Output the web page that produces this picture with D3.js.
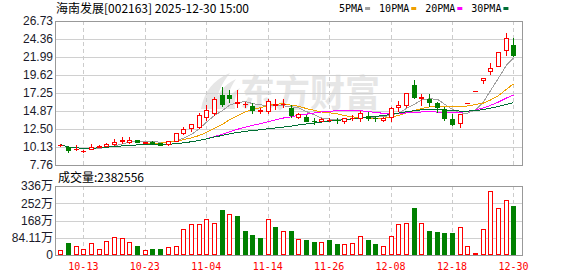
<!DOCTYPE html>
<html>
<head>
<meta charset="utf-8">
<script src="https://cdn.jsdelivr.net/npm/d3@7"></script>
<style>
  body { margin: 0; background: #fff; }
  svg { display: block; }
</style>
</head>
<body>
<div id="container"></div>
<script>
// trading days shown (MM-DD)
let dates = ["09-30","10-09","10-10","10-13","10-14","10-15","10-16","10-17","10-20","10-21",
  "10-22","10-23","10-24","10-27","10-28","10-29","10-30","10-31","11-03","11-04",
  "11-05","11-06","11-07","11-10","11-11","11-12","11-13","11-14","11-17","11-18",
  "11-19","11-20","11-21","11-24","11-25","11-26","11-27","11-28","12-01","12-02",
  "12-03","12-04","12-05","12-08","12-09","12-10","12-11","12-12","12-15","12-16",
  "12-17","12-18","12-19","12-22","12-23","12-24","12-25","12-26","12-29","12-30"];

let open = [10.35,10.15,9.85,9.55,9.90,10.15,10.30,10.50,10.95,10.75,
  11.00,10.65,10.80,10.60,10.50,10.95,11.95,12.60,12.80,14.10,
  14.65,16.98,16.98,15.90,15.75,15.53,14.85,14.90,15.70,15.75,
  15.30,14.12,14.12,13.60,13.60,13.70,13.75,13.55,13.95,14.00,
  14.25,13.97,13.75,14.10,15.35,15.66,18.30,16.65,16.42,15.90,
  15.10,13.82,13.25,15.93,17.52,18.95,20.20,20.85,22.85,23.55];
let high = [10.55,10.20,10.40,9.70,10.50,10.40,10.60,11.15,11.40,11.40,
  11.10,10.80,10.95,10.65,10.95,12.00,12.72,13.20,14.60,15.66,
  16.70,18.07,17.60,17.60,16.10,15.90,15.30,16.50,16.50,16.45,
  15.66,14.60,14.30,14.00,13.95,13.95,14.00,13.95,14.30,14.90,
  14.70,14.25,14.05,15.40,16.20,17.20,18.96,17.10,17.10,16.10,
  15.36,14.48,14.50,15.93,17.52,19.27,21.20,22.66,25.10,24.45];
let low = [10.30,9.50,9.80,9.50,9.85,10.10,10.20,10.45,10.60,10.60,
  10.75,10.60,10.55,10.40,10.45,10.90,11.90,12.30,12.70,13.70,
  14.40,15.53,16.10,15.40,15.40,14.65,14.55,14.60,15.20,15.35,
  14.12,14.00,13.55,13.15,13.50,13.50,13.30,13.30,13.70,13.50,
  13.70,13.55,13.50,13.50,14.90,15.35,16.63,15.66,15.53,14.80,
  13.69,13.03,12.73,15.93,17.52,18.60,19.70,20.80,22.20,22.12];
let close = [10.45,9.75,9.90,9.65,10.10,10.30,10.55,10.80,11.00,11.10,
  10.85,10.75,10.65,10.45,10.90,11.95,12.55,13.10,14.35,15.00,
  16.45,15.80,16.63,16.00,15.80,15.00,14.95,16.20,15.75,15.85,
  14.35,14.45,13.60,13.55,13.86,13.72,13.70,13.90,14.00,14.65,
  13.95,13.92,14.00,15.30,15.66,17.20,16.70,16.75,16.10,15.36,
  13.99,13.16,14.48,15.93,17.52,19.27,20.60,22.66,24.55,22.30];

// volume in 万 (last day 2382556)
let volume = [24,58,44,29,58,29,68,88,83,63,
  44,24,29,29,39,44,127,151,151,174,
  157,219,200,190,117,98,83,174,137,117,
  117,77,73,63,63,73,54,54,58,91,
  73,54,44,91,151,154,229,154,117,112,
  107,107,135,42,10,125,311,228,267,238.2556];
// 1 = red volume bar, 0 = green
let volUp = [1,0,1,1,1,1,1,1,1,1, 0,1,0,0,1,1,1,1,1,1,
  1,0,1,0,0,0,0,1,0,1, 0,1,0,0,1,0,0,1,1,1,
  0,0,1,1,1,1,0,1,0,0, 0,0,1,1,1,1,1,1,1,0];

let priceTicks = [7.76,10.13,12.50,14.87,17.25,19.62,21.99,24.36,26.73];
let volTicks = [0,84.11,168.22,252.33,336.44];
let volTickLabels = ["0","84.11万","168万","252万","336万"];
let tickDates = ["10-13","10-23","11-04","11-14","11-26","12-08","12-18","12-30"];
let maPeriods = [5,10,20,30];
let maNames = ["5PMA","10PMA","20PMA","30PMA"];

let maColors = ["#a0a0a0","#f0a000","#ff00ff","#006f35"];
let upColor = "#ff0000";
let downColor = "#008000";

let w = 578;
let h = 276;
let left = 56, right = 522;
let top1 = 21, bottom1 = 165;
let top2 = 186, bottom2 = 255;

let viz = d3.select("#container")
  .append("svg")
    .attr("width", w)
    .attr("height", h)
;

let rows = dates.map(function(d, i){
  return {date: d, o: open[i], h: high[i], l: low[i], c: close[i], v: volume[i], vUp: volUp[i]};
});

let xScale = d3.scaleBand().domain(dates).range([56.5, 517.3]);
function cx(d){ return Math.round(xScale(d) + xScale.bandwidth()/2); }

let yScale = d3.scaleLinear().domain([7.76, 26.73]).range([bottom1, top1]);
let vScale = d3.scaleLinear().domain([0, 336.44]).range([bottom2, top2]);

// watermark
let mark = viz.append("g").attr("fill", "#e6e6e6");
mark.append("path")
  .attr("d", "M201,109 C204,92 213,80 230,73 C221,84 216,96 216,109 Z M214,109 C216,95 223,85 236,79 C229,89 226,99 227,109 Z M225,109 C227,99 232,92 240,88 C235,95 234,102 235,109 Z");
mark.append("text")
  .attr("x", 240)
  .attr("y", 107)
  .attr("font-family", "Noto Sans CJK SC")
  .attr("font-weight", "bold")
  .attr("font-size", 37)
  .attr("textLength", 140)
  .attr("lengthAdjust", "spacingAndGlyphs")
  .text("东方财富");

// horizontal grid
let grid = viz.append("g").attr("shape-rendering", "crispEdges");
grid.selectAll(".pgrid").data(priceTicks.slice(1, -1)).enter()
  .append("line")
  .attr("class", "pgrid")
  .attr("x1", left).attr("x2", right)
  .attr("y1", function(d){ return Math.round(yScale(d)) + 0.5; })
  .attr("y2", function(d){ return Math.round(yScale(d)) + 0.5; })
  .attr("stroke", "#d0d0d0");
grid.selectAll(".vgrid").data(volTicks.slice(1, -1)).enter()
  .append("line")
  .attr("class", "vgrid")
  .attr("x1", left).attr("x2", right)
  .attr("y1", function(d){ return Math.round(vScale(d)) + 0.5; })
  .attr("y2", function(d){ return Math.round(vScale(d)) + 0.5; })
  .attr("stroke", "#d0d0d0");

// vertical dashed grid in both panels
[[top1, bottom1], [top2, bottom2]].forEach(function(p){
  grid.selectAll(null).data(tickDates).enter()
    .append("line")
    .attr("x1", function(d){ return cx(d) + 0.5; })
    .attr("x2", function(d){ return cx(d) + 0.5; })
    .attr("y1", p[0]).attr("y2", p[1])
    .attr("stroke", "#cccccc")
    .attr("stroke-dasharray", "4,3");
});

// moving averages
let maGroup = viz.append("g").attr("fill", "none").attr("shape-rendering", "crispEdges");
maPeriods.forEach(function(p, k){
  let ma = close.map(function(c, i){
    return d3.mean(close.slice(Math.max(0, i - p + 1), i + 1));
  });
  let lineMaker = d3.line()
    .x(function(d, i){ return cx(dates[i]) + 0.5; })
    .y(function(d){ return yScale(d); });
  maGroup.append("path")
    .attr("d", lineMaker(ma))
    .attr("stroke", maColors[k])
    .attr("stroke-width", 1);
});

// candles
let candleGroup = viz.append("g").attr("shape-rendering", "crispEdges");
let candle = candleGroup.selectAll(".candle").data(rows).enter()
  .append("g").attr("class", "candle");

candle.append("line")
  .attr("x1", function(d){ return cx(d.date) + 0.5; })
  .attr("x2", function(d){ return cx(d.date) + 0.5; })
  .attr("y1", function(d){ return Math.round(yScale(d.h)); })
  .attr("y2", function(d){ return Math.round(yScale(d.l)) + 1; })
  .attr("stroke", function(d){ return d.c >= d.o ? upColor : downColor; });

candle.each(function(d){
  let g = d3.select(this);
  let yTop = Math.round(yScale(Math.max(d.o, d.c)));
  let yBot = Math.round(yScale(Math.min(d.o, d.c)));
  let x = cx(d.date);
  if (yBot - yTop < 1) {
    g.append("rect")
      .attr("x", x - 2).attr("y", yTop)
      .attr("width", 5).attr("height", 1)
      .attr("fill", d.c >= d.o ? upColor : downColor);
  } else if (d.c >= d.o) {
    g.append("rect")
      .attr("x", x - 1.5).attr("y", yTop + 0.5)
      .attr("width", 4).attr("height", yBot - yTop)
      .attr("fill", "#fff")
      .attr("stroke", upColor);
  } else {
    g.append("rect")
      .attr("x", x - 2).attr("y", yTop)
      .attr("width", 5).attr("height", yBot - yTop + 1)
      .attr("fill", downColor);
  }
});

// volume bars
let volGroup = viz.append("g").attr("shape-rendering", "crispEdges");
volGroup.selectAll(".vol").data(rows).enter()
  .append("rect")
  .attr("class", "vol")
  .attr("x", function(d){ return d.vUp ? cx(d.date) - 1.5 : cx(d.date) - 2; })
  .attr("y", function(d){ return Math.round(vScale(d.v)) + (d.vUp ? 0.5 : 0); })
  .attr("width", function(d){ return d.vUp ? 4 : 5; })
  .attr("height", function(d){ return Math.max(1, bottom2 - Math.round(vScale(d.v)) - (d.vUp ? 1 : 0)); })
  .attr("fill", function(d){ return d.vUp ? "#fff" : downColor; })
  .attr("stroke", function(d){ return d.vUp ? upColor : "none"; });

// frames
let frame = viz.append("g").attr("fill", "none").attr("stroke", "#999").attr("shape-rendering", "crispEdges");
frame.append("rect").attr("x", left - 0.5).attr("y", top1 + 0.5).attr("width", right - left + 0.5).attr("height", bottom1 - top1);
frame.append("rect").attr("x", left - 0.5).attr("y", top2 + 0.5).attr("width", right - left + 0.5).attr("height", bottom2 - top2);

// axes
let yAxis = d3.axisLeft(yScale)
  .tickValues(priceTicks)
  .tickFormat(d3.format(".2f"))
  .tickSize(0)
  .tickPadding(3);
let yAxisGroup = viz.append("g")
  .attr("class", "yaxisgroup")
  .attr("transform", "translate(" + left + ",0)")
  .call(yAxis);

let vAxis = d3.axisLeft(vScale)
  .tickValues(volTicks)
  .tickFormat(function(d, i){ return volTickLabels[i]; })
  .tickSize(0)
  .tickPadding(3);
let vAxisGroup = viz.append("g")
  .attr("class", "vaxisgroup")
  .attr("transform", "translate(" + left + ",0)")
  .call(vAxis);

[yAxisGroup, vAxisGroup].forEach(function(g){
  g.select(".domain").remove();
  g.selectAll("text")
    .attr("font-family", "Liberation Sans, Noto Sans CJK SC")
    .attr("font-size", 12)
    .attr("fill", "#1a1a2a");
});

let xAxis = d3.axisBottom(xScale)
  .tickValues(tickDates)
  .tickSize(0)
  .tickPadding(8);
let xAxisGroup = viz.append("g")
  .attr("class", "xaxisgroup")
  .attr("transform", "translate(0," + bottom2 + ")")
  .call(xAxis);
xAxisGroup.select(".domain").remove();
xAxisGroup.selectAll("text")
  .attr("font-family", "DejaVu Sans Mono")
  .attr("font-size", 10)
  .attr("fill", "#ff0000");

// title and volume label
viz.append("text")
  .attr("x", 56).attr("y", 13)
  .attr("font-family", "Noto Sans CJK SC")
  .attr("font-size", 12)
  .attr("fill", "#000")
  .text("海南发展[002163] 2025-12-30 15:00");

viz.append("text")
  .attr("x", 58).attr("y", 182)
  .attr("font-family", "Noto Sans CJK SC")
  .attr("font-size", 12)
  .attr("fill", "#000")
  .text("成交量:" + Math.round(volume[volume.length - 1] * 10000));

// legend
let lx = 339;
maNames.forEach(function(name, k){
  let t = viz.append("text")
    .attr("x", lx).attr("y", 12)
    .attr("font-family", "DejaVu Sans Mono")
    .attr("font-size", 10)
    .attr("fill", "#000")
    .text(name);
  let tw = t.node().getComputedTextLength();
  viz.append("rect")
    .attr("x", lx + tw + 2).attr("y", 7)
    .attr("width", 5).attr("height", 3)
    .attr("fill", maColors[k]);
  lx += tw + 2 + 5 + 9;
});
</script>
</body>
</html>
